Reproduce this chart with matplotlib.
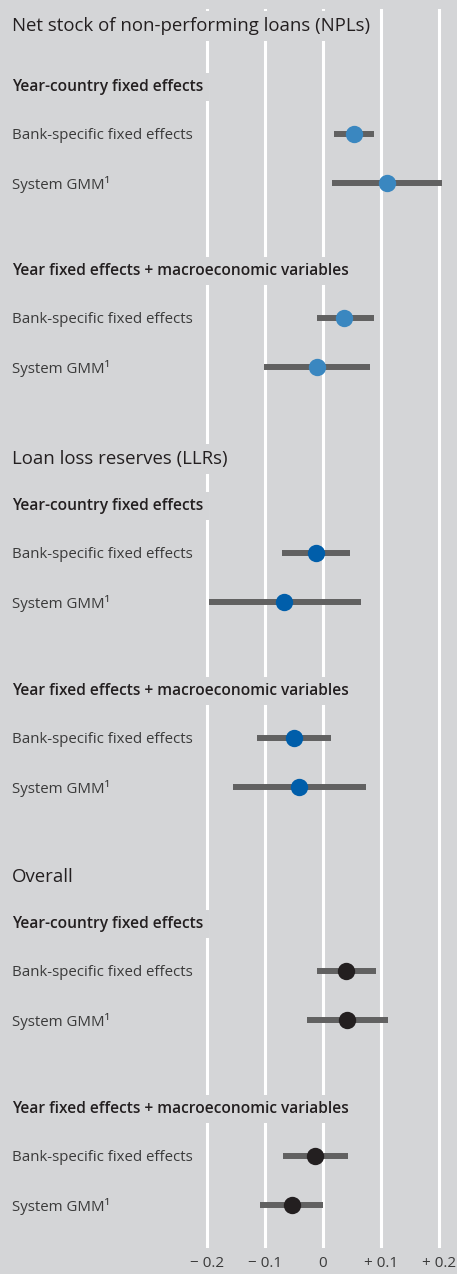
import matplotlib
matplotlib.use('Agg')
import matplotlib.pyplot as plt

# Panel titles and regression groups
sections = ['Net stock of non-performing loans (NPLs)', 'Loan loss reserves (LLRs)', 'Overall']
groups = ['Year-country fixed effects', 'Year fixed effects + macroeconomic variables']
methods = ['Bank-specific fixed effects', 'System GMM\u00b9']

# Estimates per section: [group][method]
point = [
    [[0.054, 0.110], [0.037, -0.011]],
    [[-0.012, -0.067], [-0.050, -0.042]],
    [[0.040, 0.042], [-0.014, -0.053]],
]
low = [
    [[0.019, 0.016], [-0.010, -0.102]],
    [[-0.071, -0.197], [-0.114, -0.156]],
    [[-0.010, -0.028], [-0.069, -0.109]],
]
high = [
    [[0.088, 0.206], [0.088, 0.081]],
    [[0.047, 0.066], [0.014, 0.074]],
    [[0.092, 0.112], [0.043, 0.000]],
]

ticks = [-0.2, -0.1, 0, 0.1, 0.2]
tick_labels = ['\u2212 0.2', '\u2212 0.1', '0', '+ 0.1', '+ 0.2']

bg = '#d4d5d7'
bar_color = '#616161'
dot_colors = ['#3a87c0', '#005eaa', '#231f20']

plt.rcParams['font.family'] = ['Open Sans', 'DejaVu Sans']

fig = plt.figure(figsize=(4.57, 12.74), dpi=100, facecolor=bg)
ax = fig.add_axes([0, 26 / 1274, 1, 1 - 35 / 1274])
ax.set_facecolor(bg)
ax.set_xlim(-323 / 578, 134 / 578)
ax.set_ylim(1248, 9)

# vertical layout (pixel rows from the top)
section_y = [25, 458, 876]
txt_x = 12 / 457
box = dict(facecolor=bg, edgecolor='none', pad=4.5)

for s, title in enumerate(sections):
    y0 = section_y[s]
    ax.text(txt_x, y0 + 1, title, transform=ax.get_yaxis_transform(), fontsize=13.4,
            va='center', ha='left', color='#231f20', fontweight='medium', bbox=box)
    for g, group in enumerate(groups):
        gy = y0 + 61 + g * 184 if s == 0 else y0 + 47 + g * 185
        ax.text(txt_x, gy + 1, group, transform=ax.get_yaxis_transform(), fontsize=11.2,
                va='center', ha='left', color='#231f20', fontweight='semibold', bbox=box)
        for m, method in enumerate(methods):
            my = gy + 48 + m * 49
            ax.text(txt_x, my + 1, method, transform=ax.get_yaxis_transform(), fontsize=10.8,
                    va='center', ha='left', color='#3a3a3a', bbox=box)
            ax.hlines(my, low[s][g][m], high[s][g][m], color=bar_color, linewidth=4.3, zorder=4)
            ax.plot(point[s][g][m], my, 'o', color=dot_colors[s], markersize=12.5,
                    markeredgewidth=0, zorder=5)

ax.set_xticks(ticks)
ax.set_xticklabels(tick_labels, fontsize=11, color='#3a3a3a')
ax.tick_params(axis='x', length=0, pad=6)
ax.set_yticks([])
ax.grid(axis='x', color='white', linewidth=2.2)
ax.set_axisbelow(True)
for sp in ax.spines.values():
    sp.set_visible(False)

fig.savefig('out.png', dpi=100, facecolor=bg)
